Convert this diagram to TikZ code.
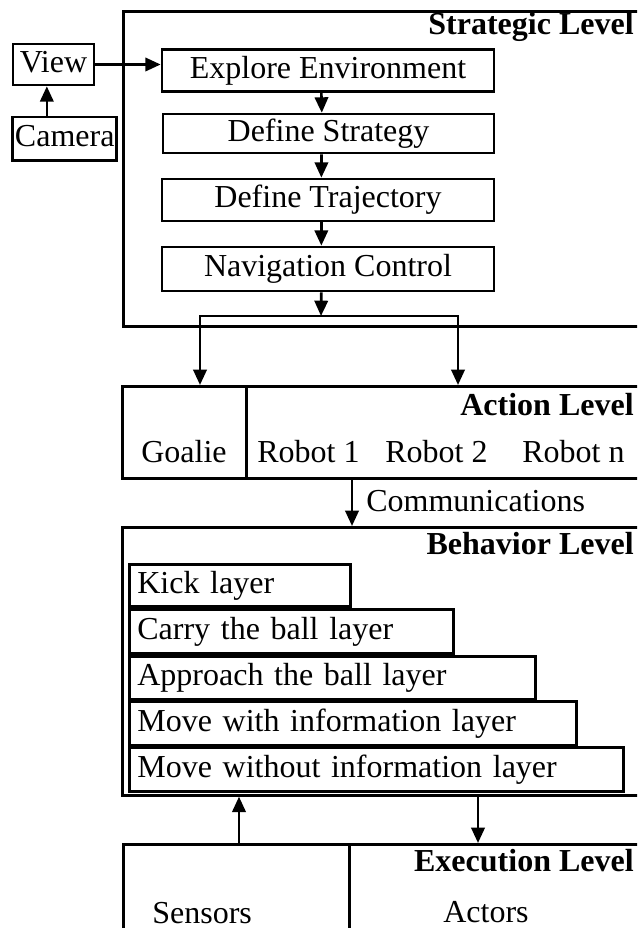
\documentclass[tikz,border=0pt]{standalone}
\usepackage{fontspec}
\setmainfont{Liberation Serif}
\usetikzlibrary{arrows.meta,positioning}

\begin{document}
\begin{tikzpicture}[x=0.3pt, y=-0.3pt, line width=0.8pt,
    font=\fontsize{9.6}{11.5}\selectfont,
    >={Triangle[length=4.6pt,width=4pt]},
    blk/.style={draw, inner sep=0pt, text height=6.7pt, text depth=2pt},
    lvlbox/.style={draw, inner sep=0pt, anchor=north west},
    lyr/.style={draw, inner xsep=2.4pt, inner ysep=0pt, anchor=north west, align=left, text height=6.7pt, text depth=2pt},
    lvltxt/.style={anchor=base east, inner sep=0pt, font=\fontsize{9.6}{11.5}\selectfont\bfseries},
    lbl/.style={anchor=base west, inner sep=0pt}]
   \useasboundingbox (0,0) rectangle (637,928);
   \clip (0,0) rectangle (637,928);

   %level frames
   \node[lvlbox, minimum width=173.4pt, minimum height=94.5pt] (strat) at (122,10) {};
   \node[lvlbox, minimum width=173.7pt, minimum height=27.6pt] (action) at (121,385) {};
   \node[lvlbox, minimum width=37.2pt, minimum height=27.6pt] (goal) at (121,385) {};
   \node[lvlbox, minimum width=173.7pt, minimum height=80.4pt] (behav) at (121,526) {};
   \node[lvlbox, minimum width=173.4pt, minimum height=47.1pt] (exec) at (122,843) {};
   \node[lvlbox, minimum width=67.8pt, minimum height=47.1pt] (sens) at (122,843) {};

   \node[lvltxt] (tstrat) at (635,35) {Strategic Level};
   \node[lvltxt] (taction) at (635,415) {Action Level};
   \node[lvltxt] (tbehav) at (635,554) {Behavior Level};
   \node[lvltxt] (texec) at (635,871) {Execution Level};

   %strategic level
   \node[blk, minimum width=24.3pt, minimum height=12.3pt] (view) at (53.5,64.5) {View};
   \node[blk, minimum width=31.2pt, minimum height=13.1pt] (cam) at (64.7,139) {Camera};
   \node[blk, minimum width=99.6pt, minimum height=12.6pt] (explore) at (328,70.5) {Explore Environment};
   \node[blk, minimum width=99.3pt, minimum height=11.7pt] (strategy) at (328.5,133.5) {Define Strategy};
   \node[blk, minimum width=99.6pt, minimum height=12.6pt] (traj) at (328,200) {Define Trajectory};
   \node[blk, minimum width=99.6pt, minimum height=13.2pt] (nav) at (328,269) {Navigation Control};

   \coordinate (split) at (321,316);
   \coordinate (bl) at (200,316);
   \coordinate (br) at (458,316);

   %action level
   \node[lbl] (goalie) at (140,463) {Goalie};
   \node[lbl] (rob1) at (256,463) {Robot 1};
   \node[lbl] (rob2) at (384,463) {Robot 2};
   \node[lbl] (robn) at (521,463) {Robot n};

   \coordinate (com) at (352,0);
   \node[lbl] (tcom) at (365,511) {Communications};

   %behavior level
   \node[lyr, text width=61.5pt, minimum height=12.6pt] (kick) at (128,563) {Kick layer};
   \node[lyr, text width=92.4pt, minimum height=13.2pt] (carry) at (128,608) {Carry the ball layer};
   \node[lyr, text width=117pt, minimum height=12.9pt] (approach) at (128,655) {Approach the ball layer};
   \node[lyr, text width=129.3pt, minimum height=13.2pt] (movew) at (128,700) {Move with information layer};
   \node[lyr, text width=143.4pt, minimum height=13.2pt] (movewo) at (128,746) {Move without information layer};

   %execution level
   \coordinate (up) at (239,0);
   \coordinate (dn) at (478,0);
   \node[lbl] (sensors) at (151,923) {Sensors};
   \node[lbl] (actors) at (442,922) {Actors};

  \path[->]
    (view.east) edge (view.east -| explore.west)
    ([xshift=-2pt]view.south |- cam.north) edge ([xshift=-2pt]view.south)
    ([xshift=-2pt]explore.south) edge ([xshift=-2pt]strategy.north)
    ([xshift=-2.1pt]strategy.south) edge ([xshift=-2pt]traj.north)
    ([xshift=-2pt]traj.south) edge ([xshift=-2pt]nav.north)
    ([xshift=-2pt]nav.south) edge (split)
    (com |- action.south) edge (com |- behav.north)
    (up |- exec.north) edge (up |- behav.south)
    (dn |- behav.south) edge (dn |- exec.north);
  \draw[<->] (bl |- action.north) -- (bl) -- (br) -- (br |- action.north);
\end{tikzpicture}
\end{document}
